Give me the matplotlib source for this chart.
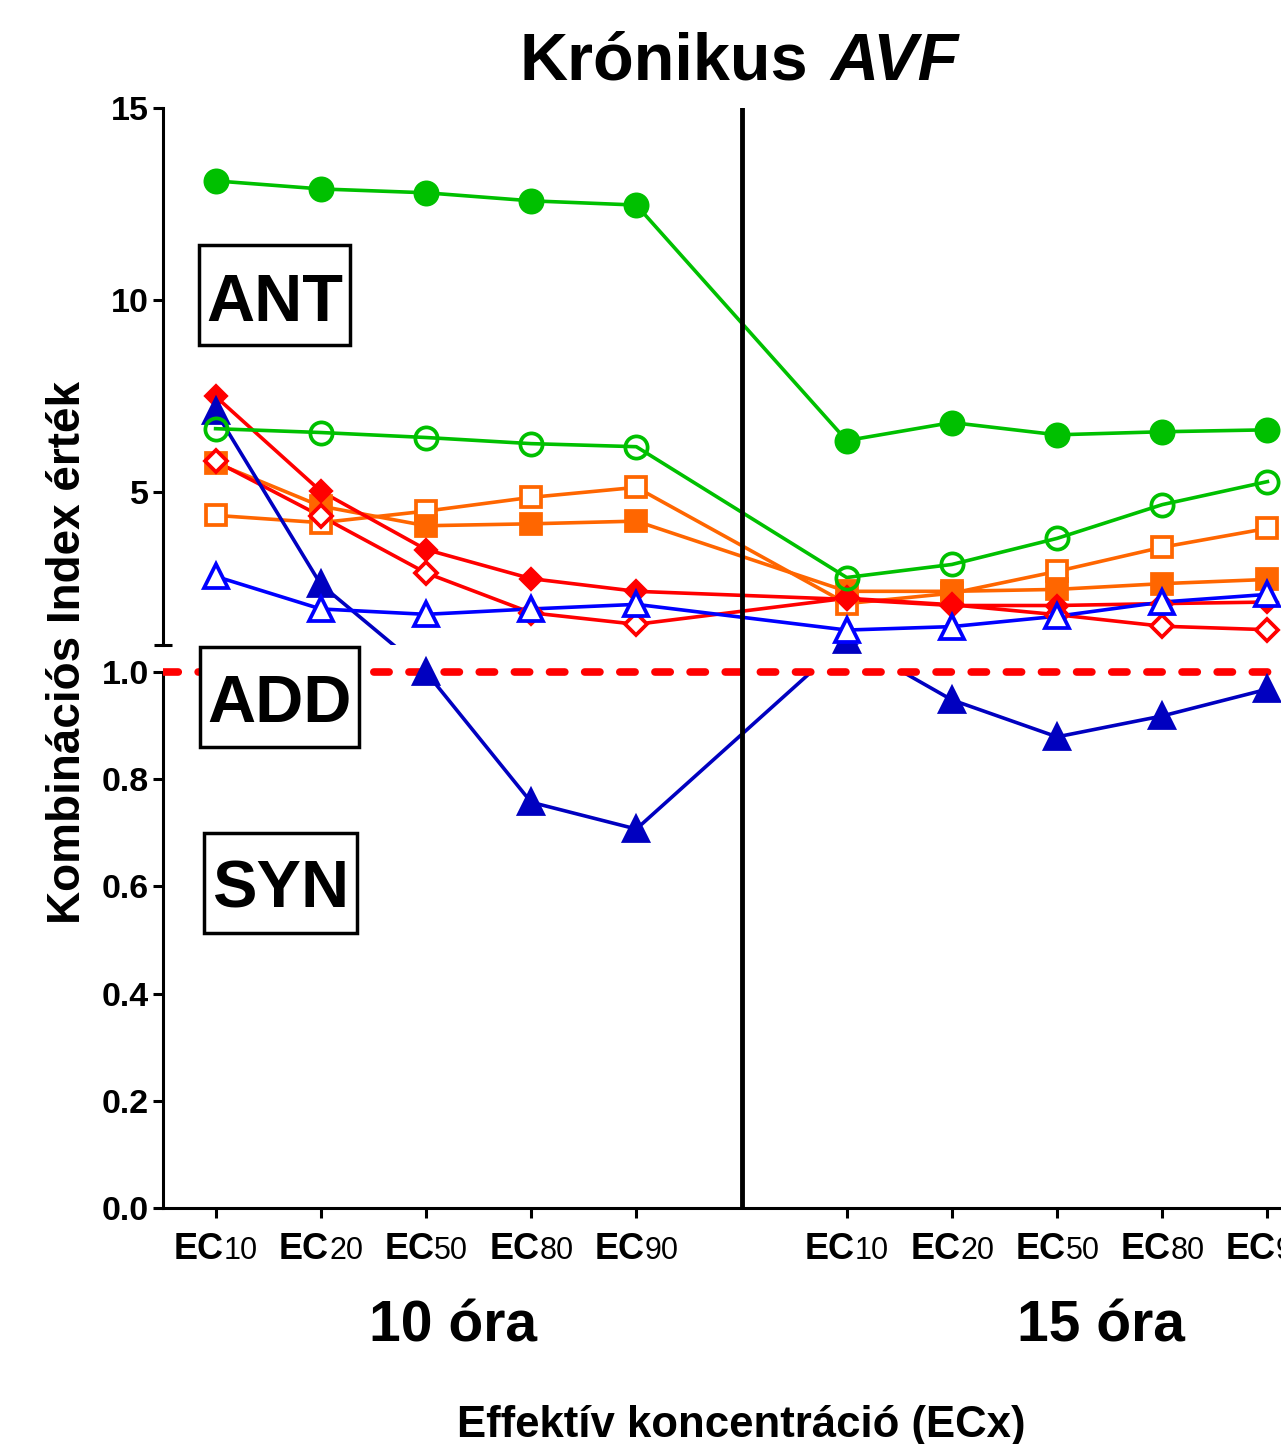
import matplotlib
matplotlib.use('Agg')
import matplotlib.pyplot as plt
import matplotlib.transforms as mtransforms
from matplotlib.patches import Rectangle
import numpy as np

plt.rcParams['font.family'] = ['Liberation Sans', 'DejaVu Sans']
plt.rcParams['font.weight'] = 'bold'

# x positions: 10 óra group, gap, 15 óra group
x_pos = [0, 1, 2, 3, 4, 6, 7, 8, 9, 10]
ec_levels = ['10', '20', '50', '80', '90', '10', '20', '50', '80', '90']
time_groups = ['10 óra', '15 óra']

# combination index values
green_filled = [13.10, 12.89, 12.79, 12.58, 12.47, 6.33, 6.80, 6.48, 6.56, 6.61]
green_open = [6.64, 6.54, 6.41, 6.25, 6.17, 2.76, 3.10, 3.78, 4.66, 5.26]
orange_open = [4.38, 4.19, 4.49, 4.85, 5.11, 2.08, 2.35, 2.92, 3.55, 4.04]
orange_filled = [5.75, 4.62, 4.11, 4.16, 4.23, 2.40, 2.40, 2.45, 2.60, 2.71]
red_open = [5.79, 4.36, 2.88, 1.84, 1.54, 2.22, 2.05, 1.79, 1.49, 1.40]
red_filled = [7.48, 5.01, 3.49, 2.73, 2.40, 2.19, 2.03, 2.03, 2.08, 2.12]
blue_open = [2.79, 1.94, 1.80, 1.94, 2.06, 1.39, 1.48, 1.75, 2.12, 2.32]
blue_filled = [7.09, 2.58, 1.00, 0.757, 0.707, 1.13, 0.948, 0.879, 0.918, 0.968]

yticks = [0.0, 0.2, 0.4, 0.6, 0.8, 1.0, 5, 10, 15]
yticklabels = ['0.0', '0.2', '0.4', '0.6', '0.8', '1.0', '5', '10', '15']

GREEN = '#00C000'
ORANGE = '#FF6600'
RED = '#FF0000'
BLUE = '#0000FF'
DKBLUE = '#0000C0'

# broken y axis: 0-1 linear below, 1-15 compressed above, with a gap
GAP = 27 / 536
UP_SLOPE = 38.36 / 536


def fwd(y):
    y = np.asarray(y, dtype=float)
    return np.where(y <= 1.0, y, 1.0 + GAP + (y - 1.0) * UP_SLOPE)


def inv(u):
    u = np.asarray(u, dtype=float)
    up = 1.0 + (u - 1.0 - GAP) / UP_SLOPE
    return np.where(u <= 1.0, u, np.where(u < 1.0 + GAP, 1.0, up))


W, H = 1281, 1444


def fx(px):
    return px / W


def fy(py):
    return 1 - py / H


fig = plt.figure(figsize=(12.81, 14.44), dpi=100)
ax = fig.add_axes([fx(163), fy(1208), 1157 / W, 1100 / H])
ax.set_yscale('function', functions=(fwd, inv))

series = [
    (orange_open, 's', ORANGE, 'white', 14.5),
    (orange_filled, 's', ORANGE, ORANGE, 14.5),
    (red_open, 'D', RED, 'white', 11),
    (red_filled, 'D', RED, RED, 10.5),
    (blue_filled, '^', DKBLUE, DKBLUE, 17),
    (blue_open, '^', BLUE, 'white', 17),
    (green_open, 'o', GREEN, 'none', 16),
    (green_filled, 'o', GREEN, GREEN, 16),
]

for vals, mk, col, face, ms in series:
    ax.plot(x_pos, vals, color=col, lw=2.6, zorder=2, solid_joinstyle='round')
    ax.plot(x_pos, vals, ls='none', marker=mk, ms=ms, mfc=face, mec=col,
            mew=2.7, zorder=3)

ax.set_xlim(-0.5, 10.5)
ax.set_ylim(0, 15)

# hide lines inside the axis break
lo = fwd(1.0) / fwd(15)
hi = fwd(1.0001) / fwd(15)
ax.add_patch(Rectangle((0, lo), 1, hi - lo, transform=ax.transAxes,
                       fc='white', ec='none', zorder=2.5))

ax.axhline(1.0, color=RED, lw=5.5, linestyle=(0, (2.0, 2.6)),
           dash_capstyle='round', zorder=2.7)
ax.axvline(5, color='black', lw=3.5, zorder=2.8)

# spines
for s in ['top', 'right']:
    ax.spines[s].set_visible(False)
ax.spines['left'].set_linewidth(2.2)
ax.spines['bottom'].set_linewidth(2.2)
ax.spines['left'].set_bounds(0, 1.0)
trans = mtransforms.blended_transform_factory(ax.transAxes, ax.transData)
ax.plot([0, 0], [1.0001, 15], transform=trans, color='black', lw=2.2,
        clip_on=False, zorder=3)
ax.plot([0], [1.0001], transform=trans, marker='_', ms=13, mew=2.2,
        color='black', clip_on=False, zorder=3)

ax.set_yticks(yticks)
ax.set_yticklabels(yticklabels)
ax.minorticks_off()
ax.tick_params(axis='y', length=7, width=2.2, labelsize=24.5, pad=3)
ax.set_xticks(x_pos)
ax.set_xticklabels([''] * len(x_pos))
ax.tick_params(axis='x', length=7, width=2.2)

# EC tick labels: bold "EC" + smaller regular number
tx = mtransforms.blended_transform_factory(ax.transData, ax.transAxes)
for xp, lvl in zip(x_pos, ec_levels):
    ax.annotate('EC', xy=(xp, 0), xycoords=tx, xytext=(6, -37),
                textcoords='offset points', ha='right', va='baseline',
                fontsize=26, fontweight='bold', annotation_clip=False)
    ax.annotate(lvl, xy=(xp, 0), xycoords=tx, xytext=(6, -37),
                textcoords='offset points', ha='left', va='baseline',
                fontsize=22, fontweight='normal', annotation_clip=False)

# group labels
fig.text(fx(453), fy(1342), time_groups[0], ha='center', va='baseline',
         fontsize=41, fontweight='bold')
fig.text(fx(1101), fy(1342), time_groups[1], ha='center', va='baseline',
         fontsize=41, fontweight='bold')

fig.text(fx(741), fy(1437), 'Effektív koncentráció (ECx)', ha='center',
         va='baseline', fontsize=31.5, fontweight='bold')
fig.text(fx(68), fy(652), 'Kombinációs Index érték', rotation=90,
         ha='center', va='center', fontsize=33, fontweight='bold')

# title
fig.text(fx(808), fy(80), 'Krónikus', ha='right', va='baseline',
         fontsize=48, fontweight='bold')
fig.text(fx(830), fy(80), 'AVF', ha='left', va='baseline',
         fontsize=48, fontweight='bold', style='italic')

# ANT / ADD / SYN boxes
boxes = [('ANT', 199, 245, 350, 345, 321),
         ('ADD', 200, 647, 359, 747, 722),
         ('SYN', 204, 833, 357, 933, 907)]
for label, x0, y0, x1, y1, base in boxes:
    fig.add_artist(Rectangle((fx(x0), fy(y1)), (x1 - x0) / W, (y1 - y0) / H,
                             transform=fig.transFigure, fc='white',
                             ec='black', lw=2.5, zorder=5))
    fig.text(fx((x0 + x1) / 2), fy(base), label, ha='center', va='baseline',
             fontsize=48, fontweight='bold', zorder=6)

fig.savefig('out.png', dpi=100)
